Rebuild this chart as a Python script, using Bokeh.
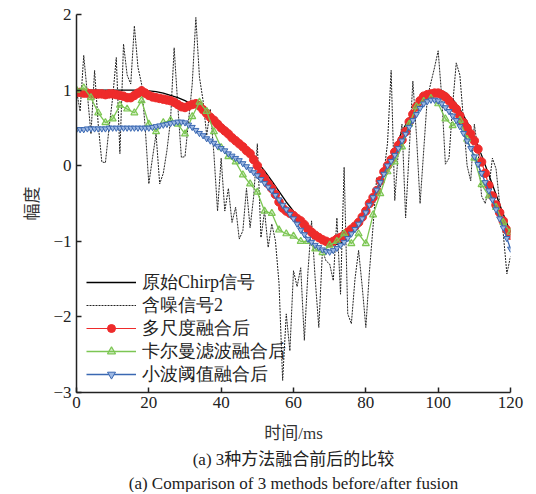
from bokeh.plotting import figure
from bokeh.models import Range1d, FixedTicker, Legend, LegendItem, Title
from bokeh.embed import file_html
from bokeh.resources import INLINE

# ---------------- data ----------------
t_chirp = list(range(0, 121, 2))
chirp = [1.0, 1.0, 1.0, 1.0, 1.0, 1.0, 1.0, 1.0, 1.0, 1.0,
         0.99, 0.98, 0.96, 0.93, 0.9, 0.86, 0.81, 0.76, 0.71, 0.65,
         0.56, 0.47, 0.37, 0.27, 0.16, 0.05, -0.07, -0.2, -0.34, -0.48,
         -0.6, -0.71, -0.83, -0.93, -1.0, -1.04, -1.04, -1.0, -0.91, -0.78,
         -0.61, -0.42, -0.2, 0.02, 0.24, 0.45, 0.63, 0.78, 0.89, 0.97,
         1.0, 0.97, 0.88, 0.75, 0.58, 0.38, 0.14, -0.12, -0.38, -0.64,
         -0.88]

t_ms = list(range(0, 121))
noise = [0.99, 0.72, 1.46, 0.95, 0.42, 1.26, 0.55, 0.05, 0.04, 0.5,
         0.9, 1.43, 0.16, 1.61, 1.2, 1.08, 1.85, 1.3, 1.08, 0.5,
         -0.24, 0.1, 0.42, -0.24, -0.1, 0.2, 0.6, 1.56, 0.8, 0.11,
         0.12, 0.6, 1.08, 1.96, 1.17, 0.86, 0.4, 0.75, 0.15, -0.6,
         0.1, -0.6, -0.3, -0.75, -0.55, -0.97, -0.86, -0.3, -0.82, -0.4,
         0.29, -0.95, -0.6, -1.08, -0.77, -0.99, -1.56, -2.84, -1.96, -2.45,
         -1.39, -1.6, -1.35, -2.31, -1.4, -0.73, -1.5, -2.14, -1.12, -1.26,
         -1.3, -1.52, -0.69, -1.7, -0.02, -1.96, -2.09, -1.5, -1.12, -1.6,
         -2.14, -1.4, -0.8, -0.16, -0.29, -0.1, 0.3, 1.26, -0.46, 0.2,
         0.55, -0.69, 0.2, 1.12, 0.4, -0.5, 0.2, 0.9, 1.1, 1.3,
         1.52, 0.9, 0.02, 0.1, 0.8, 1.36, 1.2, 0.6, 0.0, -0.2,
         0.55, 0.2, -0.4, -0.5, -0.3, 0.1, -0.04, -0.5, -0.9, -1.43,
         -1.2]

multiscale = [0.97, 0.97, 0.96, 0.96, 0.95, 0.95, 0.95, 0.95, 0.94, 0.95,
              0.95, 0.94, 0.93, 0.92, 0.9, 0.9, 0.93, 0.96, 0.99, 0.96,
              0.93, 0.91, 0.9, 0.89, 0.88, 0.87, 0.86, 0.84, 0.81, 0.78,
              0.77, 0.79, 0.81, 0.82, 0.79, 0.74, 0.69, 0.64, 0.6, 0.55,
              0.5, 0.46, 0.42, 0.37, 0.33, 0.29, 0.25, 0.2, 0.16, 0.08,
              0.0, -0.1, -0.17, -0.24, -0.3, -0.38, -0.48, -0.56, -0.6, -0.63,
              -0.66, -0.7, -0.73, -0.78, -0.84, -0.88, -0.92, -0.95, -0.98, -1.0,
              -1.02, -1.0, -0.97, -0.95, -0.92, -0.88, -0.84, -0.8, -0.75, -0.68,
              -0.6, -0.5, -0.42, -0.33, -0.2, -0.08, 0.0, 0.08, 0.18, 0.27,
              0.34, 0.45, 0.58, 0.68, 0.78, 0.86, 0.92, 0.94, 0.95, 0.96,
              0.96, 0.94, 0.91, 0.86, 0.8, 0.75, 0.66, 0.57, 0.5, 0.42,
              0.33, 0.22, 0.05, -0.1, -0.26, -0.4, -0.52, -0.62, -0.73, -0.85,
              -0.92]

t_kalman = list(range(0, 121, 2))
kalman = [1.0, 1.03, 0.9, 0.7, 0.57, 0.62, 0.8, 0.75, 0.7, 0.86,
          0.55, 0.45, 0.57, 0.6, 0.55, 0.42, 0.65, 0.84, 0.72, 0.45,
          0.24, 0.12, 0.05, -0.12, -0.24, -0.35, -0.6, -0.63, -0.85, -0.9,
          -0.93, -1.0, -1.0, -1.1, -1.15, -1.05, -1.0, -0.9, -1.03, -0.9,
          -1.03, -0.65, -0.37, -0.08, 0.05, 0.25, 0.55, 0.78, 0.85, 0.89,
          0.82, 0.62, 0.53, 0.6, 0.35, 0.1, -0.25, -0.4, -0.55, -0.75,
          -0.88]

wavelet = [0.48, 0.48, 0.48, 0.49, 0.49, 0.49, 0.49, 0.49, 0.49, 0.5,
           0.5, 0.5, 0.5, 0.5, 0.5, 0.5, 0.5, 0.5, 0.5, 0.5,
           0.5, 0.51, 0.52, 0.53, 0.54, 0.55, 0.56, 0.57, 0.58, 0.58,
           0.57, 0.54, 0.51, 0.47, 0.43, 0.4, 0.36, 0.33, 0.3, 0.26,
           0.23, 0.2, 0.16, 0.13, 0.1, 0.07, 0.03, -0.01, -0.05, -0.09,
           -0.13, -0.18, -0.23, -0.28, -0.33, -0.39, -0.45, -0.52, -0.58, -0.64,
           -0.7, -0.77, -0.85, -0.91, -0.97, -1.01, -1.05, -1.08, -1.11, -1.13,
           -1.14, -1.12, -1.09, -1.05, -1.01, -0.96, -0.9, -0.84, -0.77, -0.7,
           -0.62, -0.52, -0.42, -0.32, -0.22, -0.11, 0.0, 0.06, 0.14, 0.23,
           0.33, 0.42, 0.51, 0.6, 0.68, 0.76, 0.82, 0.85, 0.87, 0.87,
           0.86, 0.82, 0.77, 0.72, 0.66, 0.6, 0.52, 0.43, 0.33, 0.23,
           0.12, 0.02, -0.1, -0.22, -0.33, -0.45, -0.58, -0.7, -0.82, -0.96,
           -1.1]

x_ticks = [0, 20, 40, 60, 80, 100, 120]
y_ticks = [-3, -2, -1, 0, 1, 2]
labels = ["原始Chirp信号", "含噪信号2", "多尺度融合后", "卡尔曼滤波融合后", "小波阈值融合后"]
x_label = "时间/ms"
y_label = "幅度"
caption1 = "(a) 3种方法融合前后的比较"
caption2 = "(a) Comparison of 3 methods before/after fusion"

# ---------------- figure ----------------
SERIF = "Liberation Serif, Noto Sans CJK SC"
NUM = "Liberation Serif"
RED = "#ee2b2b"
GREEN = "#7cc653"
BLUE = "#3a68b2"

p = figure(width=528, height=492, x_range=Range1d(0, 120), y_range=Range1d(-3, 2),
           output_backend="svg", toolbar_location=None,
           min_border_left=76, min_border_right=18, min_border_top=14, min_border_bottom=4)
p.grid.visible = False
p.outline_line_color = None
p.background_fill_color = "white"

r_noise = p.line(t_ms, noise, line_color="#222222", line_width=1, line_dash="2 1")
r_chirp = p.line(t_chirp, chirp, line_color="black", line_width=1.3)
r_ms_l = p.line(t_ms, multiscale, line_color=RED, line_width=1.2)
r_ms_s = p.scatter(t_ms, multiscale, marker="circle", size=8.5, fill_color=RED, line_color=RED)
r_k_l = p.line(t_kalman, kalman, line_color=GREEN, line_width=1.3)
r_k_s = p.scatter(t_kalman, kalman, marker="triangle", size=7, fill_color=GREEN, fill_alpha=0.3,
                  line_color=GREEN, line_width=1.2)
r_w_l = p.line(t_ms, wavelet, line_color=BLUE, line_width=1.3)
r_w_s = p.scatter(t_ms, wavelet, marker="inverted_triangle", size=6, fill_color="#9db8e3",
                  line_color=BLUE, line_width=1)

for ax, ticks in ((p.xaxis[0], x_ticks), (p.yaxis[0], y_ticks)):
    ax.ticker = FixedTicker(ticks=ticks)
    ax.minor_tick_line_color = None
    ax.major_tick_in = 5
    ax.major_tick_out = 0
    ax.axis_line_width = 1.5
    ax.axis_line_color = "#222222"
    ax.major_tick_line_width = 1.5
    ax.major_tick_line_color = "#222222"
    ax.major_label_text_font = NUM
    ax.major_label_text_font_size = "17px"
    ax.major_label_text_color = "#222222"
    ax.axis_label_text_font = SERIF
    ax.axis_label_text_font_size = "17px"
    ax.axis_label_text_font_style = "normal"
    ax.axis_label_text_color = "#333333"

p.yaxis[0].major_label_overrides = {v: (("\u2212" + str(abs(v))) if v < 0 else str(v)) for v in y_ticks}
p.xaxis[0].axis_label = x_label
p.yaxis[0].axis_label = y_label
p.xaxis[0].major_label_standoff = 4
p.yaxis[0].major_label_standoff = 5
p.xaxis[0].axis_label_standoff = 13
p.yaxis[0].axis_label_standoff = 8

# one single-row legend per series so that the row pitch matches the reference
legend_rows = [
    (labels[0], [r_chirp], 98),
    (labels[1], [r_noise], 75),
    (labels[2], [r_ms_l, r_ms_s], 52),
    (labels[3], [r_k_l, r_k_s], 29),
    (labels[4], [r_w_l, r_w_s], 6),
]
for lab, rends, ypos in legend_rows:
    lg = Legend(items=[LegendItem(label=lab, renderers=rends)], location=(10, ypos),
                orientation="vertical")
    lg.background_fill_alpha = 0
    lg.border_line_alpha = 0
    lg.label_text_font = "Liberation Serif"
    lg.label_text_font_size = "18px"
    lg.label_text_color = "#222222"
    lg.glyph_width = 50
    lg.glyph_height = 20
    lg.label_height = 20
    lg.label_standoff = 6
    lg.spacing = 0
    lg.padding = 0
    lg.margin = 0
    p.add_layout(lg)

t1 = Title(text=caption1, align="center", text_font=SERIF, text_font_size="17px",
           text_font_style="normal", text_color="#222222", standoff=5)
t2 = Title(text=caption2, align="center", text_font=SERIF, text_font_size="17px",
           text_font_style="normal", text_color="#222222", standoff=0)
p.add_layout(t1, "below")
p.add_layout(t2, "below")

open("out.html", "w").write(file_html(p, INLINE))
